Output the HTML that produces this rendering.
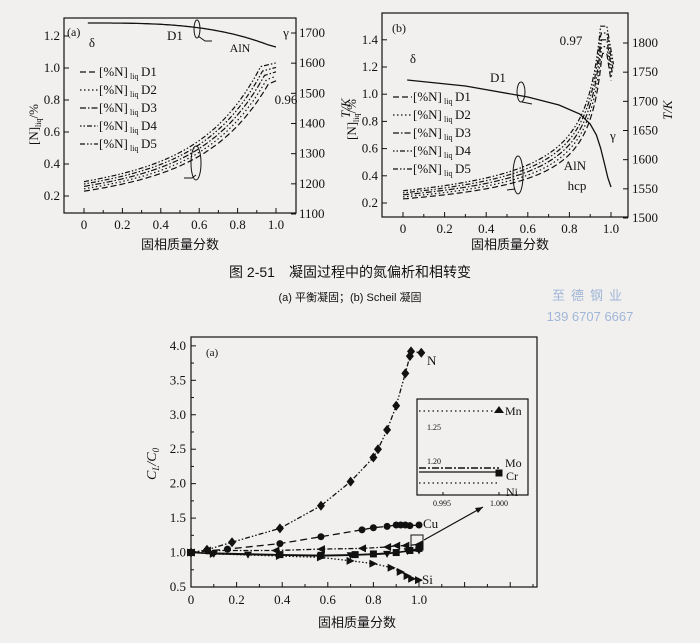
<!DOCTYPE html>
<html><head><meta charset="utf-8"><style>
body{margin:0;background:#f2f0ee;}
svg{display:block;font-family:"Liberation Serif","Noto Serif CJK SC",serif;}
.c{font-family:"Liberation Sans","Noto Sans CJK SC",sans-serif;}
</style></head><body>
<svg id="s" width="700" height="643" viewBox="0 0 700 643" xmlns="http://www.w3.org/2000/svg">
<rect width="700" height="643" fill="#f2f0ee"/>
<g id="g"></g>
<text x="350" y="277" text-anchor="middle" class="c" font-size="14" fill="#111">图 2-51　凝固过程中的氮偏析和相转变</text>
<text x="350" y="301" text-anchor="middle" class="c" font-size="11" fill="#111">(a) 平衡凝固；(b) Scheil 凝固</text>
<text x="590" y="300" text-anchor="middle" class="c" font-size="13" fill="#9fb6d8" letter-spacing="6">至德钢业</text>
<text x="590" y="321" text-anchor="middle" font-family="Liberation Sans" font-size="13" fill="#9fb6d8">139 6707 6667</text>
<text transform="translate(38,145) rotate(-90)" font-size="13" fill="#111">[N]<tspan font-size="8" dy="3">liq</tspan><tspan dy="-3">/%</tspan></text>
<text transform="translate(350,118) rotate(-90)" font-size="13" font-style="italic" fill="#111">T/K</text>
<text transform="translate(356,140) rotate(-90)" font-size="13" fill="#111">[N]<tspan font-size="8" dy="3">liq</tspan><tspan dy="-3">/%</tspan></text>
<text transform="translate(672,120) rotate(-90)" font-size="13" font-style="italic" fill="#111">T/K</text>
<text transform="translate(156,480) rotate(-90)" font-size="14" font-style="italic" fill="#111">C<tspan font-size="9" dy="3">L</tspan><tspan dy="-3">/C</tspan><tspan font-size="9" dy="3">0</tspan></text>
</svg>
<script>
var NS="http://www.w3.org/2000/svg",G=document.getElementById('g');
function el(n,a,t){var e=document.createElementNS(NS,n);for(var k in a)e.setAttribute(k,a[k]);if(t!=null)e.textContent=t;G.appendChild(e);return e;}
function line(x1,y1,x2,y2,w){el('line',{x1:x1,y1:y1,x2:x2,y2:y2,stroke:'#111','stroke-width':w||1});}
function txt(x,y,s,a,sz,cls){el('text',{x:x,y:y,'text-anchor':a||'middle','font-size':sz||13,fill:'#111','class':cls||''},s);}
function path(pts,dash,w){el('polyline',{points:pts.map(p=>p[0].toFixed(1)+','+p[1].toFixed(1)).join(' '),fill:'none',stroke:'#111','stroke-width':w||1.3,'stroke-dasharray':dash||''});}
var dashes=['6,3','1.5,2.5','6,2,1.5,2','1.5,2,1.5,2,5,2','5,2,1.5,2,1.5,2'];
(function(){
 var X=f=>84+192*f,Y=v=>196-(v-0.2)*160,TY=T=>214-(T-1100)*181/600;
 el('rect',{x:64,y:18,width:232,height:195,fill:'none',stroke:'#111','stroke-width':1.2});
 for(var i=0;i<=5;i++){var f=i*0.2;line(X(f),213,X(f),208);txt(X(f),229,i?f.toFixed(1):'0');if(i<5)line(X(f+0.1),213,X(f+0.1),210);}
 for(var v=0.2;v<=1.21;v+=0.2){line(64,Y(v),69,Y(v));txt(60,Y(v)+4,v.toFixed(1),'end');}
 for(var T=1100;T<=1700;T+=100){line(296,TY(T),291,TY(T));txt(299,TY(T)+4,T,'start');}
 txt(180,249,'固相质量分数','middle',13,'c');
 var p=[];for(var f=0.02;f<=0.97;f+=0.01)p.push([X(f),23+25*Math.pow(f,3.2)]);p.push([X(1.0),47]);path(p,'',1.3);
 for(var d=0;d<5;d++){var q=[],a=0.23+d*0.015,end=0.92+d*0.028,fe=0.97-d*0.01;
  for(var f=0;f<=fe;f+=0.01){var r=f/fe;q.push([X(f),Y(a+(end-a)*(Math.exp(3.2*r)-1)/(Math.exp(3.2)-1)*0.85+(end-a)*0.15*r)]);}
  q.push([X(1.0),Y(end)]);path(q,dashes[d],1.2);}
 var L=['D1','D2','D3','D4','D5'];
 for(var d=0;d<5;d++){var y=72+d*18;path([[80,y],[98,y]],dashes[d],1.2);txt(99,y+4,'[%N]','start',13);txt(130,y+7,'liq','start',8);txt(141,y+4,L[d],'start',13);}
 txt(67,36,'(a)','start',12);txt(92,47,'δ');txt(175,40,'D1');txt(240,52,'AlN','middle',12);txt(286,37,'γ');txt(286,104,'0.96');
 el('ellipse',{cx:197,cy:29,rx:3,ry:9,fill:'none',stroke:'#111'});path([[198,36],[205,41],[212,41]],'',1);
 el('ellipse',{cx:196,cy:163,rx:5,ry:17,fill:'none',stroke:'#111'});path([[196,175],[192,178],[184,178]],'',1);
})();
(function(){
 var X=f=>403+208*f,Y=v=>203-(v-0.2)*136,TY=T=>218-(T-1500)*175/300;
 el('rect',{x:382,y:13,width:246,height:204,fill:'none',stroke:'#111','stroke-width':1.2});
 for(var i=0;i<=5;i++){var f=i*0.2;line(X(f),217,X(f),212);txt(X(f),233,i?f.toFixed(1):'0');if(i<5)line(X(f+0.1),217,X(f+0.1),214);}
 for(var v=0.2;v<=1.41;v+=0.2){line(382,Y(v),387,Y(v));txt(378,Y(v)+4,v.toFixed(1),'end');}
 for(var T=1500;T<=1800;T+=50){line(628,TY(T),623,TY(T));txt(632,TY(T)+4,T,'start');}
 txt(510,249,'固相质量分数','middle',13,'c');
 var tp=[[0.02,80],[0.3,86],[0.6,97],[0.75,105],[0.85,114],[0.9,124],[0.93,135],[0.95,148],[0.97,165],[0.985,178],[1.0,187]];path(tp.map(p=>[X(p[0]),p[1]]),'',1.3);
 for(var d=0;d<5;d++){var q=[],a=0.23+d*0.015,peak=1.3+d*0.05;
  for(var f=0;f<=0.976;f+=0.005){var v=Math.min(peak,a*Math.pow(1-f,-0.55));q.push([X(f),Y(v)]);if(v>=peak)break;}
  q.push([X(0.98),Y(peak)]);q.push([X(1.0+d*0.003),Y(1.1+d*0.03)]);path(q,dashes[d],1.2);}
 var L=['D1','D2','D3','D4','D5'];
 for(var d=0;d<5;d++){var y=97+d*18;path([[393,y],[412,y]],dashes[d],1.2);txt(413,y+4,'[%N]','start',13);txt(444,y+7,'liq','start',8);txt(455,y+4,L[d],'start',13);}
 txt(392,32,'(b)','start',12);txt(413,63,'δ');txt(498,82,'D1');txt(571,45,'0.97');txt(610,140,'γ','start');txt(575,170,'AlN');txt(577,190,'hcp');
 el('ellipse',{cx:521,cy:92,rx:4,ry:10,fill:'none',stroke:'#111'});path([[522,102],[532,104]],'',1);
 el('ellipse',{cx:518,cy:175,rx:5,ry:19,fill:'none',stroke:'#111'});path([[515,189],[507,190]],'',1);
})();
(function(){
 var X=f=>191+228*f,Y=v=>587-(v-0.5)*68.9;
 el('rect',{x:191,y:337,width:346,height:250,fill:'none',stroke:'#111','stroke-width':1.2});
 for(var i=0;i<=7;i++){var f=i*0.2;if(X(f)<537)line(X(f),587,X(f),582);if(X(f+0.1)<537)line(X(f+0.1),587,X(f+0.1),584);if(i<=5)txt(X(f),604,i?f.toFixed(1):'0');}
 for(var v=0.5;v<=4.01;v+=0.5){line(191,Y(v),196,Y(v));txt(186,Y(v)+4,v.toFixed(1),'end');if(v<4)line(191,Y(v+0.25),194,Y(v+0.25));}
 txt(357,627,'固相质量分数','middle',13,'c');
 txt(206,356,'(a)','start',11);
 function ser(pts,dash,mk){var q=pts.map(p=>[X(p[0]),Y(p[1])]);path(q,dash,1.3);q.forEach(p=>mk(p[0],p[1]));}
 function dia(x,y){el('polygon',{points:`${x},${y-5} ${x+4},${y} ${x},${y+5} ${x-4},${y}`,fill:'#111'});}
 function cir(x,y){el('circle',{cx:x,cy:y,r:3.5,fill:'#111'});}
 function tr(x,y){el('polygon',{points:`${x-4},${y-4} ${x+4},${y} ${x-4},${y+4}`,fill:'#111'});}
 function tl(x,y){el('polygon',{points:`${x+4},${y-4} ${x-4},${y} ${x+4},${y+4}`,fill:'#111'});}
 function td(x,y){el('polygon',{points:`${x-4},${y-3} ${x+4},${y-3} ${x},${y+4}`,fill:'#111'});}
 function sq(x,y){el('rect',{x:x-3.5,y:y-3.5,width:7,height:7,fill:'#111'});}
 ser([[0,1],[0.07,1.04],[0.18,1.15],[0.39,1.35],[0.57,1.68],[0.7,2.03],[0.8,2.38],[0.82,2.5],[0.86,2.78],[0.9,3.13],[0.94,3.6],[0.96,3.85],[0.965,3.92],[1.01,3.9]],'5,2,1.5,2,1.5,2',dia);
 ser([[0,1],[0.16,1.05],[0.39,1.13],[0.57,1.23],[0.75,1.33],[0.8,1.36],[0.86,1.38],[0.9,1.4],[0.92,1.4],[0.94,1.4],[0.96,1.39],[1.0,1.4]],'7,4',cir);
 ser([[0,1],[0.1,0.98],[0.39,0.95],[0.57,0.93],[0.7,0.88],[0.8,0.84],[0.88,0.78],[0.92,0.72],[0.95,0.66],[0.97,0.62],[1.0,0.6]],'1.5,2',tr);
 ser([[0,1],[0.07,1.03],[0.37,1.03],[0.57,1.05],[0.75,1.06],[0.86,1.08],[0.9,1.1],[0.94,1.1],[1.0,1.12]],'5,2,1.5,2',tl);
 ser([[0,1],[0.1,0.98],[0.25,0.97],[0.57,0.95],[0.7,0.96],[0.86,0.98],[0.95,1.02],[1.0,1.03]],'',td);
 ser([[0,1],[0.39,0.97],[0.57,0.96],[0.72,0.97],[0.8,0.98],[0.9,1.0],[0.96,1.03],[1.0,1.06]],'',sq);
 txt(427,365,'N','start');txt(423,528,'Cu','start');txt(422,584,'Si','start');
 el('rect',{x:411,y:535,width:12,height:15,fill:'none',stroke:'#111'});
 path([[424,540],[483,507]],'',1.2);el('polygon',{points:'483,507 475,508 478,513',fill:'#111'});
 el('rect',{x:417,y:399,width:111,height:96,fill:'#f2f0ee',stroke:'#111','stroke-width':1.2});
 txt(441,430,'1.25','end',8);txt(441,464,'1.20','end',8);txt(442,506,'0.995','middle',8);txt(499,506,'1.000','middle',8);
 line(443,495,443,492);line(499,495,499,492);
 path([[419,411],[499,411]],'1.5,3',1.2);el('polygon',{points:'499,406 504,413 494,413',fill:'#111'});txt(505,415,'Mn','start',12);
 path([[419,468],[499,468]],'7,2,2,2',1.5);txt(505,467,'Mo','start',12);
 path([[419,472],[499,472]],'',1.3);sq(499,473);txt(506,480,'Cr','start',12);
 path([[419,483],[499,483]],'1.5,3',1.2);txt(506,496,'Ni','start',12);
})();
</script>
</body></html>
